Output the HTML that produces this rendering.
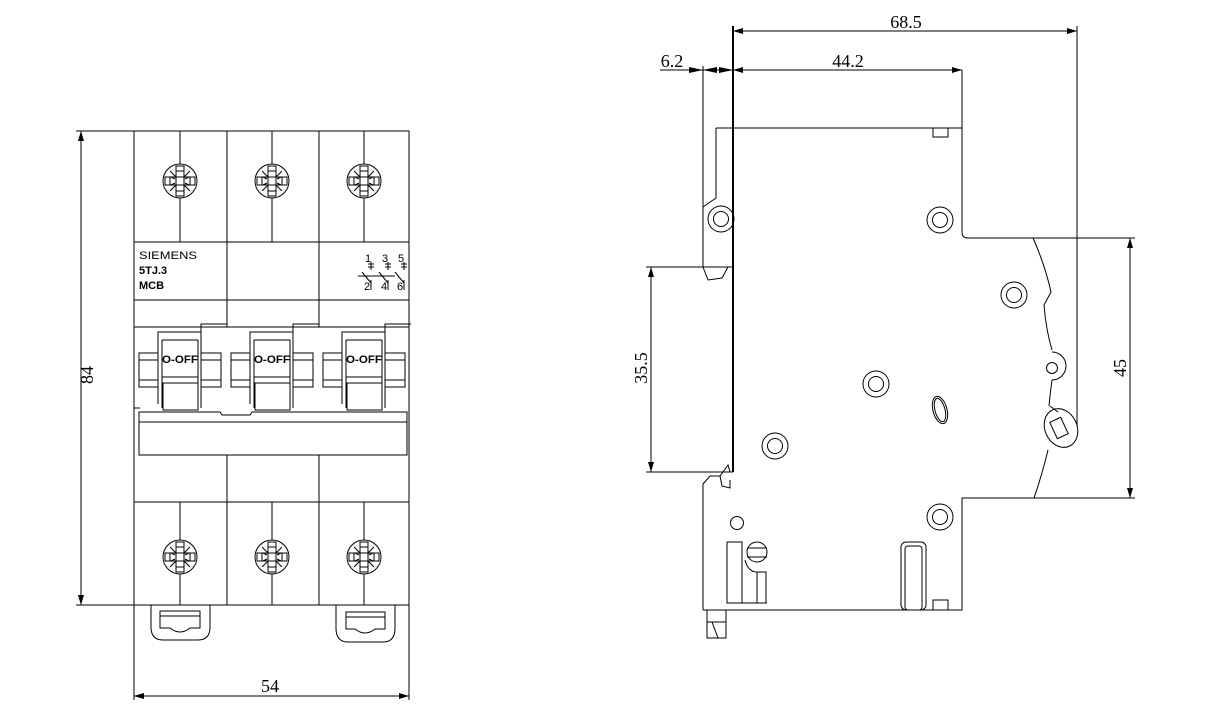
<!DOCTYPE html>
<html><head><meta charset="utf-8"><style>
html,body{margin:0;padding:0;background:#fff;}
svg{display:block;}
.l{fill:none;stroke:#000;stroke-width:1;}
.t{stroke:#000;stroke-width:2;fill:none;}
.d{font-family:"Liberation Serif",serif;font-size:18px;fill:#000;}
.s{font-family:"Liberation Sans",sans-serif;font-size:11px;fill:#000;}
</style></head><body>
<svg width="1217" height="726" viewBox="0 0 1217 726" xmlns="http://www.w3.org/2000/svg">
<defs>
<marker id="a" viewBox="0 0 10 6" refX="10" refY="3" markerWidth="14" markerHeight="6" markerUnits="userSpaceOnUse" orient="auto-start-reverse"><path d="M0,0 L10,3 L0,6z" fill="#000"/></marker>
<g id="scr">
<circle r="17" class="l"/>
<rect x="-15" y="-4" width="30" height="8" class="l"/>
<rect x="-4" y="-15" width="8" height="30" class="l"/>
<rect x="-3" y="-3" width="6" height="6" fill="#fff" stroke="none"/>
<path d="M-10,-10 L-4,-4 M10,-10 L4,-4 M-10,10 L-4,4 M10,10 L4,4 M-9,-4 L-5,-2 M9,-4 L5,-2 M-9,4 L-5,2 M9,4 L5,2" class="l"/>
<path d="M-4,-10 H4 M-4,10 H4 M-10,-4 V4 M10,-4 V4" class="l"/>
</g>
<g id="hd">
<path d="M5,353 H24 V387 H5 Z M5,360 H24 M5,380 H24" class="l"/>
<path d="M24,404 V332 H67 V404" class="l"/>
<path d="M28,340 H64 M28,340 V408 M64,340 V408 M28,377 H64" class="l"/>
<rect x="29" y="383" width="35" height="27" class="l"/>
<path d="M67,408 V324 H93" class="l"/>
<path d="M67,353 H87 V387 H67 M67,360 H87 M67,380 H87" class="l"/>
<text x="46" y="363" text-anchor="middle" class="s" font-size="12" font-weight="bold" textLength="36" lengthAdjust="spacingAndGlyphs">O-OFF</text>
</g>
</defs>

<!-- LEFT VIEW -->
<rect x="134" y="131" width="275" height="474" class="l"/>
<path d="M227,131 V327 M319,131 V327 M134,242 H409 M134,300 H409 M134,327 H409" class="l"/>
<path d="M227,455 V605 M319,455 V605 M134,502 H409" class="l"/>
<path d="M180,131 V164 M180,198 V242 M272,131 V164 M272,198 V242 M364,131 V164 M364,198 V242" class="l"/>
<path d="M180,502 V540 M180,574 V605 M272,502 V540 M272,574 V605 M364,502 V540 M364,574 V605" class="l"/>
<use href="#scr" x="180" y="181"/><use href="#scr" x="272" y="181"/><use href="#scr" x="364" y="181"/>
<use href="#scr" x="180" y="557"/><use href="#scr" x="272" y="557"/><use href="#scr" x="364" y="557"/>
<text x="139" y="259" class="s" textLength="58" lengthAdjust="spacingAndGlyphs">SIEMENS</text>
<text x="139" y="274" class="s" font-weight="bold">5TJ.3</text>
<text x="139" y="289" class="s" font-weight="bold">MCB</text>
<g class="l">
<path d="M371,262 V270 M368,264 H374 M368,267 H374 M388,262 V270 M385,264 H391 M385,267 H391 M404,262 V270 M401,264 H407 M401,267 H407"/>
<path d="M362,272 L371,283 M379,272 L388,283 M395,272 L404,283 M371,280 V290 M388,280 V290 M404,280 V290 M358,276 L378,276 M376,276 L395,276"/>
</g>
<text x="365" y="262" class="s" font-size="7">1</text><text x="382" y="262" class="s" font-size="7">3</text><text x="398" y="262" class="s" font-size="7">5</text>
<text x="364" y="290" class="s" font-size="7">2</text><text x="381" y="290" class="s" font-size="7">4</text><text x="397" y="290" class="s" font-size="7">6</text>
<use href="#hd" x="134"/><use href="#hd" x="226"/><use href="#hd" x="318"/>
<path d="M134,408 H140 M139,412 H220 L222,415 H250 L252,412 H407 V455 H139 Z M139,422 H407" class="l"/>
<path d="M134,380 V455 M409,380 V455" class="l"/>
<path d="M151,605 V627 Q151,640 163,640 H198 Q210,640 210,627 V605 M160,611 H200 V628 H190 Q180,636 170,628 H160 Z M160,616 H200" class="l"/>
<path d="M336,605 V628 Q336,642 348,642 H383 Q395,642 395,628 V605 M346,612 H385 V629 H375 Q365,637 355,629 H346 Z M346,617 H385" class="l"/>
<!-- dims left -->
<path d="M134,131 H76 M134,605 H76 M134,605 V700 M409,605 V700" class="l"/>
<line x1="81" y1="131" x2="81" y2="605" class="l" marker-start="url(#a)" marker-end="url(#a)"/>
<line x1="134" y1="696" x2="409" y2="696" class="l" marker-start="url(#a)" marker-end="url(#a)"/>
<text transform="translate(93,375) rotate(-90)" text-anchor="middle" class="d">84</text>
<text x="270" y="692" text-anchor="middle" class="d">54</text>

<!-- RIGHT VIEW -->
<path d="M703,66 V267 M716,128 V198 L703,207" class="l"/>
<line x1="733" y1="26" x2="733" y2="472" class="t" stroke-width="1.6"/>
<path d="M716,128 H962 V232 Q962,238 968,238 H1135" class="l"/>
<path d="M962,70 V128 M1077,26 V425" class="l"/>
<path d="M646,267 H733 M646,472 H733" class="l"/>
<path d="M703,267 L708,280 L722,278 L728,267" class="l"/>
<path d="M703,610 V484 L710,476 L720,476 L728,465 L730,472 M720,476 L722,486 L730,488 L730,480" class="l"/>
<path d="M703,610 H962 V498 H1135" class="l"/>
<path d="M1033,238 Q1045,265 1051,292 L1044,305 Q1046,330 1052,350 M1052,380 Q1050,395 1049,406 M1048,450 Q1042,475 1034,498" class="l"/>
<path d="M1052,352 A12,12 0 0 1 1052,380" class="l"/>
<circle cx="1052" cy="368" r="5.5" class="l"/>
<ellipse cx="1061" cy="428" rx="16" ry="20" transform="rotate(-25 1061 428)" class="l"/>
<rect x="1053" y="419" width="12" height="18" transform="rotate(-25 1059 428)" class="l"/>
<path d="M1050,406 L1058,412" class="l"/>
<g class="l">
<circle cx="721" cy="219" r="13"/><circle cx="721" cy="219" r="7.5"/>
<circle cx="940" cy="220" r="13"/><circle cx="940" cy="220" r="7.5"/>
<circle cx="1014" cy="295" r="13"/><circle cx="1014" cy="295" r="7.5"/>
<circle cx="876" cy="384" r="13"/><circle cx="876" cy="384" r="7.5"/>
<circle cx="775" cy="446" r="13"/><circle cx="775" cy="446" r="7.5"/>
<circle cx="940" cy="517" r="13"/><circle cx="940" cy="517" r="7.5"/>
<ellipse cx="940" cy="410" rx="7" ry="14" transform="rotate(-15 940 410)"/>
<ellipse cx="940" cy="410" rx="5" ry="12" transform="rotate(-15 940 410)"/>
<circle cx="737" cy="523" r="6.5"/>
<rect x="727" y="542" width="15" height="61"/>
<circle cx="757" cy="552" r="10"/><path d="M747,548 H767 M747,557 H767"/>
<path d="M745,560 Q748,572 757,572 H766 V603 M757,572 V603 M742,603 H767"/>
<rect x="901" y="542" width="25" height="68" rx="5"/>
<rect x="905" y="546" width="17" height="64" rx="3"/>
<rect x="933" y="600" width="15" height="10"/>
<rect x="933" y="128" width="15" height="9"/>
<path d="M707,610 V622 M707,622 H726 V638 H707 V622 M726,610 V622 M712,622 L718,638"/>
</g>
<!-- dims right -->
<line x1="733" y1="31" x2="1077" y2="31" class="l" marker-start="url(#a)" marker-end="url(#a)"/>
<line x1="733" y1="70" x2="962" y2="70" class="l" marker-start="url(#a)" marker-end="url(#a)"/>
<path d="M660,70 H733" class="l"/>
<path d="M703,70 L689,67 V73 Z M703,70 L717,67 V73 Z" fill="#000"/>
<path d="M733,70 L719,67 V73 Z" fill="#000"/>
<line x1="651" y1="267" x2="651" y2="472" class="l" marker-start="url(#a)" marker-end="url(#a)"/>
<line x1="1130" y1="238" x2="1130" y2="498" class="l" marker-start="url(#a)" marker-end="url(#a)"/>
<text x="906" y="28" text-anchor="middle" class="d">68.5</text>
<text x="848" y="67" text-anchor="middle" class="d">44.2</text>
<text x="672" y="67" text-anchor="middle" class="d">6.2</text>
<text transform="translate(647,368) rotate(-90)" text-anchor="middle" class="d">35.5</text>
<text transform="translate(1126,368) rotate(-90)" text-anchor="middle" class="d">45</text>
</svg>
</body></html>
